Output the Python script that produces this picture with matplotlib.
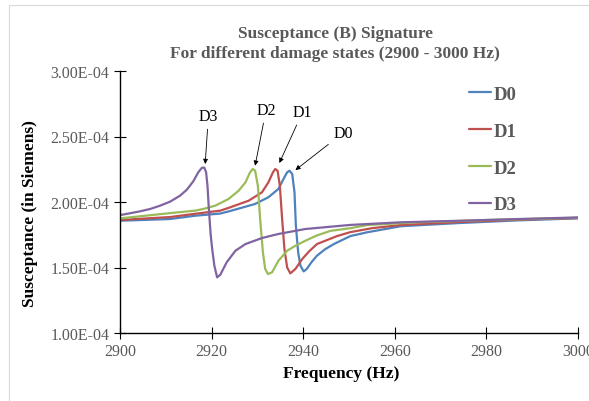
import matplotlib
matplotlib.use('Agg')
import matplotlib.pyplot as plt
from matplotlib.patches import Rectangle
from matplotlib.ticker import FuncFormatter

plt.rcParams['font.family'] = ['Liberation Serif', 'DejaVu Serif']

# values (susceptance in 1E-04 S)
f_d0 = [2900, 2910.9, 2916.4, 2921.9, 2923.7, 2929.5, 2932.4, 2934.6, 2935.7, 2936.5, 2937.0,
        2937.6, 2938.1, 2938.4, 2938.9, 2939.4, 2940.1, 2940.8, 2941.8, 2943.0, 2944.8, 2946.7,
        2950.3, 2954.0, 2961.3, 2974.4, 2987, 3000]
b_d0 = [1.857, 1.87, 1.895, 1.912, 1.928, 1.985, 2.036, 2.10, 2.176, 2.227, 2.239,
        2.214, 2.074, 1.819, 1.616, 1.514, 1.47, 1.49, 1.54, 1.59, 1.64, 1.679,
        1.74, 1.769, 1.815, 1.84, 1.86, 1.875]

f_d1 = [2900, 2910.9, 2916.4, 2921.9, 2923.7, 2928.1, 2931.0, 2932.4, 2933.4, 2933.9, 2934.4,
        2934.9, 2935.4, 2935.9, 2936.5, 2937.2, 2938.3, 2939.8, 2941.2, 2943.0, 2947.4, 2950.3,
        2955, 2961.3, 2974.4, 2987, 3000]
b_d1 = [1.863, 1.885, 1.91, 1.934, 1.955, 2.01, 2.074, 2.15, 2.227, 2.252, 2.239,
        2.125, 1.87, 1.641, 1.50, 1.455, 1.489, 1.565, 1.62, 1.679, 1.74, 1.77,
        1.80, 1.824, 1.848, 1.865, 1.878]

f_d2 = [2900, 2910.9, 2916.4, 2918.2, 2920.8, 2923.7, 2925.9, 2927.4, 2928.4, 2929.0, 2929.5,
        2930.1, 2930.6, 2931.2, 2931.7, 2932.3, 2933.2, 2934.6, 2936.5, 2938.3, 2940.5, 2943,
        2946.0, 2950.3, 2954.0, 2964.9, 2980, 3000]
b_d2 = [1.875, 1.915, 1.934, 1.947, 1.972, 2.023, 2.086, 2.15, 2.227, 2.252, 2.239,
        2.125, 1.87, 1.616, 1.489, 1.45, 1.463, 1.552, 1.628, 1.666, 1.705, 1.745,
        1.78, 1.80, 1.824, 1.845, 1.862, 1.88]

f_d3 = [2900, 2902.2, 2904.4, 2906.6, 2908.75, 2910.9, 2913.1, 2914.6, 2916.0, 2917.1, 2917.9,
        2918.4, 2918.8, 2919.1, 2919.4, 2919.8, 2920.1, 2920.6, 2921.2, 2921.9, 2923.3, 2925.2,
        2927.4, 2931.0, 2934.6, 2940.5, 2950.3, 2961.3, 2974.4, 2987, 3000]
b_d3 = [1.90, 1.914, 1.929, 1.947, 1.972, 2.002, 2.048, 2.094, 2.158, 2.227, 2.262,
        2.262, 2.227, 2.125, 1.947, 1.75, 1.65, 1.514, 1.425, 1.445, 1.54, 1.628,
        1.679, 1.725, 1.756, 1.794, 1.825, 1.845, 1.857, 1.87, 1.882]

labels = ['D0', 'D1', 'D2', 'D3']
colors = ['#4F81BD', '#C0504D', '#9BBB59', '#8064A2']

# annotation text position and arrow tip (freq, 1E-04 S)
ann_text = [(2948.7, 2.527), (2939.9, 2.689), (2931.9, 2.705), (2919.3, 2.659)]
ann_tip = [(2938.3, 2.244), (2934.8, 2.298), (2929.5, 2.277), (2918.6, 2.29)]

grey = '#595959'

fig = plt.figure(figsize=(5.89, 4.02), dpi=100)
fig.patches.append(Rectangle((9/589, -0.1), 1.2, 1 - 6/402 + 0.1, transform=fig.transFigure,
                             fill=False, edgecolor='#d9d9d9', lw=0.8))
ax = fig.add_axes([120/589, 1 - 334/402, 458/589, 262/402])

series = [(f_d0, b_d0), (f_d1, b_d1), (f_d2, b_d2), (f_d3, b_d3)]
for (f, b), lab, c in zip(series, labels, colors):
    ax.plot(f, [v*1e-4 for v in b], color=c, lw=1.6, label=lab,
            solid_joinstyle='round', solid_capstyle='round')

for lab, (tx, ty), (px, py) in zip(labels, ann_text, ann_tip):
    ax.annotate(lab, xy=(px, py*1e-4), xytext=(tx, ty*1e-4), ha='center', va='center',
                fontsize=11.5, color='black',
                arrowprops=dict(arrowstyle='-|>', color='black', lw=0.6, mutation_scale=7,
                                shrinkA=2, shrinkB=0))

ax.set_xlim(2900, 3000)
ax.set_ylim(1e-4, 3e-4)
ax.set_xticks([2900, 2920, 2940, 2960, 2980, 3000])
ax.set_yticks([1e-4, 1.5e-4, 2e-4, 2.5e-4, 3e-4])
ax.yaxis.set_major_formatter(FuncFormatter(lambda v, p: ('%.2E' % v)))
ax.tick_params(direction='inout', length=8, width=0.8, colors='black', labelcolor=grey,
               labelsize=11.5)
ax.tick_params(axis='x', pad=3)
for s in ['top', 'right']:
    ax.spines[s].set_visible(False)
for s in ['left', 'bottom']:
    ax.spines[s].set_linewidth(1.0)

fig.text(335/589, 1 - 34/402, 'Susceptance (B) Signature', ha='center', va='center',
         fontsize=12.5, fontweight='bold', color=grey)
fig.text(335/589, 1 - 54/402, 'For different damage states (2900 - 3000 Hz)', ha='center',
         va='center', fontsize=12.5, fontweight='bold', color=grey)
fig.text(341/589, 1 - 374/402, 'Frequency (Hz)', ha='center', va='center',
         fontsize=12.5, fontweight='bold')
fig.text(30/589, 1 - 214/402, 'Susceptance (in Siemens)', ha='center', va='center',
         rotation=90, fontsize=12.5, fontweight='bold')

leg = fig.legend(loc='upper left', bbox_to_anchor=(452/589, 1 - 70/402), frameon=False,
                 handlelength=1.2, handletextpad=0.15, labelspacing=1.05,
                 prop={'family': 'Liberation Serif', 'weight': 'bold', 'size': 13.5})
for t in leg.get_texts():
    t.set_color(grey)

fig.savefig('out.png', dpi=100)
